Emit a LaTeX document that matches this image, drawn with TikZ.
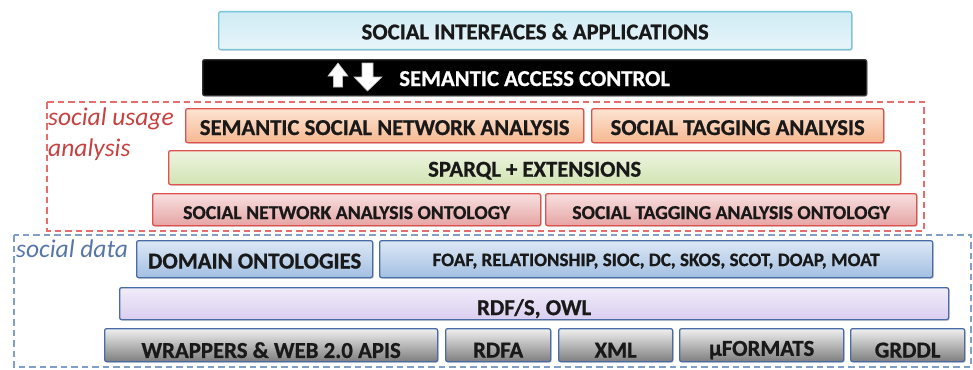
\documentclass[tikz,border=0pt]{standalone}
\usepackage{fontspec}
\setmainfont{Carlito}[BoldFeatures={FakeBold=0.8}]
\usetikzlibrary{shadows}
\definecolor{cybord}{HTML}{78C4D8}
\definecolor{cytop}{HTML}{CFEBF4}
\definecolor{cybot}{HTML}{E8F5FA}
\definecolor{redbord}{HTML}{E0504C}
\definecolor{ortop}{HTML}{FCE4D2}
\definecolor{orbot}{HTML}{F6B891}
\definecolor{grtop}{HTML}{EDF4E1}
\definecolor{grbot}{HTML}{D2E4B2}
\definecolor{pktop}{HTML}{F8E0E0}
\definecolor{pkbot}{HTML}{E6A4A4}
\definecolor{blbord}{HTML}{4A6CA6}
\definecolor{bltop}{HTML}{DDE8F5}
\definecolor{blbot}{HTML}{A2BFE2}
\definecolor{lvtop}{HTML}{F1ECF9}
\definecolor{lvbot}{HTML}{DACEF0}
\definecolor{gytop}{HTML}{F0F0F0}
\definecolor{gybot}{HTML}{7E7E7E}
\definecolor{reddash}{HTML}{E86C6C}
\definecolor{bluedash}{HTML}{809FC8}
\definecolor{redtxt}{HTML}{C8403F}
\definecolor{bluetxt}{HTML}{5676A8}
\tikzset{
  x=1pt, y=-1pt,
  layer/.style={draw, line width=1.3pt, rounded corners=2pt, anchor=north west, inner sep=0pt,
    drop shadow={opacity=0.25, shadow xshift=1.2pt, shadow yshift=-1.2pt}},
  cyanbox/.style={layer, draw=cybord, top color=cytop, bottom color=cybot},
  blackbox/.style={layer, draw=black!80, fill=black},
  orbox/.style={layer, draw=redbord, top color=ortop, bottom color=orbot},
  grbox/.style={layer, draw=redbord, top color=grtop, bottom color=grbot},
  pkbox/.style={layer, draw=redbord, top color=pktop, bottom color=pkbot},
  blbox/.style={layer, draw=blbord, top color=bltop, bottom color=blbot},
  lvbox/.style={layer, draw=blbord, top color=lvtop, bottom color=lvbot},
  gybox/.style={layer, draw=blbord, top color=gytop, bottom color=gybot},
  lbl/.style={text=black!90, inner sep=0pt},
  big/.style={lbl, font=\bfseries\fontsize{22.7}{25}\selectfont},
  mid/.style={lbl, font=\bfseries\fontsize{19.7}{22}\selectfont},
  sml/.style={lbl, font=\bfseries\fontsize{19}{22}\selectfont},
  bot/.style={lbl, font=\bfseries\fontsize{22.8}{25}\selectfont},
  grp/.style={draw, dashed, line width=1.8pt, dash pattern=on 6.5pt off 4pt},
  arw/.style={fill=white, draw=white!75!black, line width=0.6pt}
}
\newcommand{\bx}[6]{% style, name, x1, y1, x2, y2
  \node[#1, minimum width={#5-#3}, minimum height={#6-#4}] (#2) at (#3,#4) {};}
\begin{document}
\begin{tikzpicture}
\useasboundingbox (0,0) rectangle (973,369);
% group frames
\coordinate (ra) at (47,102); \coordinate (rb) at (924,231);
\draw[grp, draw=reddash] (ra) rectangle (rb);
\coordinate (ba) at (14,235); \coordinate (bb) at (971,367);
\draw[grp, draw=bluedash] (ba) rectangle (bb);
\node[anchor=base west, inner sep=0pt, text=redtxt, font=\itshape\fontsize{25.5}{31}\selectfont, align=left] (sua) at (48,156) {social usage\\analysis};
\node[anchor=base west, inner sep=0pt, text=bluetxt, font=\itshape\fontsize{25.5}{30}\selectfont] (sd) at (16,257) {social data};
% boxes
\bx{cyanbox}{sia}{218}{11}{851}{49}
\bx{blackbox}{sac}{202}{59}{866}{95}
\bx{orbox}{ssna}{185}{108}{583}{142}
\bx{orbox}{sta}{591}{108}{883}{142}
\bx{grbox}{spq}{168}{150}{900}{184}
\bx{pkbox}{snao}{152}{193}{540}{225}
\bx{pkbox}{stao}{545}{193}{916}{225}
\bx{blbox}{dom}{136}{240}{372}{277}
\bx{blbox}{foaf}{379}{240}{932}{277}
\bx{lvbox}{rdfs}{119}{287}{948}{319}
\bx{gybox}{wrap}{104}{328}{437}{361}
\bx{gybox}{rdfa}{445}{328}{550}{361}
\bx{gybox}{xml}{558}{328}{672}{361}
\bx{gybox}{uf}{679}{328}{843}{361}
\bx{gybox}{grddl}{850}{328}{964}{361}
% labels
\node[big] (siat) at ([yshift=-1pt]sia.center) {SOCIAL INTERFACES \& APPLICATIONS};
\node[big, text=white] (sact) at ([yshift=-1pt]sac.center) {SEMANTIC ACCESS CONTROL};
\node[big] (ssnat) at ([yshift=-2pt]ssna.center) {SEMANTIC SOCIAL NETWORK ANALYSIS};
\node[big] (stat) at ([yshift=-2pt]sta.center) {SOCIAL TAGGING ANALYSIS};
\node[big] (spqt) at ([yshift=-3pt]spq.center) {SPARQL + EXTENSIONS};
\node[mid] (snaot) at ([yshift=-3pt]snao.center) {SOCIAL NETWORK ANALYSIS ONTOLOGY};
\node[mid] (staot) at ([yshift=-3pt]stao.center) {SOCIAL TAGGING ANALYSIS ONTOLOGY};
\node[bot] (domt) at ([yshift=-2pt]dom.center) {DOMAIN ONTOLOGIES};
\node[sml] (foaft) at ([yshift=-2pt]foaf.center) {FOAF, RELATIONSHIP, SIOC, DC, SKOS, SCOT, DOAP, MOAT};
\node[bot] (rdfst) at ([yshift=-5pt]rdfs.center) {RDF/S, OWL};
\node[bot] (wrapt) at ([yshift=-5pt]wrap.center) {WRAPPERS \& WEB 2.0 APIS};
\node[bot] (rdfat) at ([yshift=-5pt]rdfa.center) {RDFA};
\node[bot] (xmlt) at ([yshift=-5pt]xml.center) {XML};
\node[bot] (uft) at ([yshift=-5pt]uf.center) {µFORMATS};
\node[bot] (grddlt) at ([yshift=-5pt]grddl.center) {GRDDL};
% arrows in access control bar
\draw[arw] (328,76) -- (338,63) -- (348,76) -- (342.5,76) -- (342.5,87) -- (333.5,87) -- (333.5,76) -- cycle;
\draw[arw] (354,77) -- (362,77) -- (362,63) -- (373,63) -- (373,77) -- (382,77) -- (367.5,91) -- cycle;
\end{tikzpicture}
\end{document}
